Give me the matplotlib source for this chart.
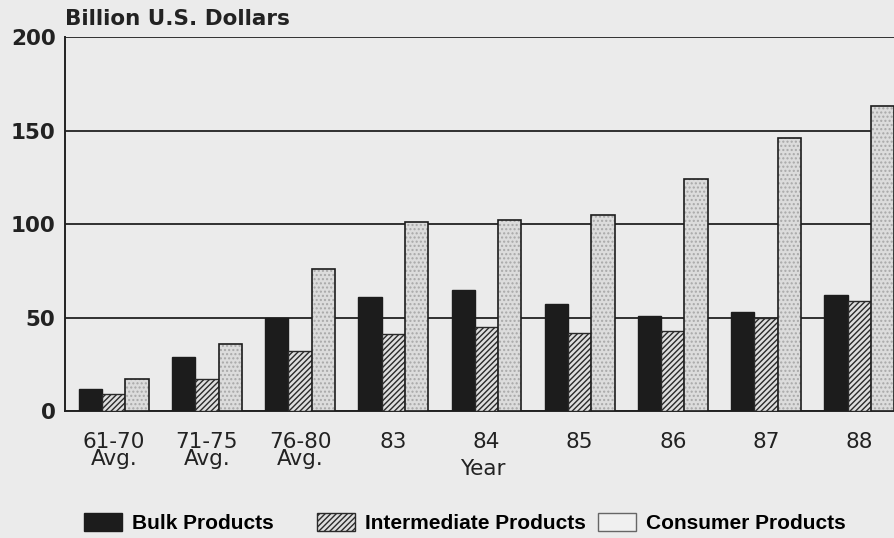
import matplotlib.pyplot as plt
from matplotlib.patches import Patch
import numpy as np

plt.rcParams['font.family'] = ['DejaVu Sans']

# data (billion U.S. dollars)
years = ["61-70\nAvg.", "71-75\nAvg.", "76-80\nAvg.", "83", "84", "85", "86", "87", "88"]
bulk = [12, 29, 50, 61, 65, 57, 51, 53, 62]
intermediate = [9, 17, 32, 41, 45, 42, 43, 50, 59]
consumer = [17, 36, 76, 101, 102, 105, 124, 146, 163]

paper = "#ebebeb"
ink = "#1c1c1c"

fig = plt.figure(figsize=(8.94, 5.38), dpi=100, facecolor=paper)
ax = fig.add_axes([0.073, 0.236, 0.935, 0.695], facecolor=paper)

x = np.arange(len(years))
w = 0.25

ax.bar(x - w, bulk, w, color=ink, edgecolor=ink, linewidth=1, zorder=3)
ax.bar(x, intermediate, w, facecolor="#dedede", edgecolor="#2a2a2a",
       hatch="//////", linewidth=1, zorder=3)
# stippled fill first, then a dark outline on top
ax.bar(x + w, consumer, w, facecolor="#dcdcdc", edgecolor="#a8a8a8",
       hatch="....", linewidth=0, zorder=3)
ax.bar(x + w, consumer, w, fill=False, edgecolor=ink, linewidth=1.2, zorder=4)

ax.set_ylim(0, 200)
ax.set_xlim(-0.52, 8.45)
ax.set_yticks([0, 50, 100, 150, 200])
ax.set_yticklabels(["0", "50", "100", "150", "200"], fontsize=15.5,
                   fontweight="bold", color="#222")
ax.set_xticks(x)
ax.set_xticklabels(years, fontsize=15.5, color="#222", linespacing=0.85)
ax.tick_params(axis="y", length=0, pad=7)
ax.tick_params(axis="x", direction="in", length=5, width=1.2, color=ink, pad=15)

ax.grid(axis="y", color="#222", linewidth=1.3, zorder=1)
for side in ["top", "right"]:
    ax.spines[side].set_visible(False)
for side in ["left", "bottom"]:
    ax.spines[side].set_linewidth(1.4)
    ax.spines[side].set_color("#222")

ax.set_xlabel("Year", fontsize=15.5, color="#222", labelpad=-7.5)
fig.text(0.073, 0.953, "Billion U.S. Dollars", fontsize=15.5, fontweight="bold",
         color="#222", va="baseline")

# legend entries are spaced unevenly in the original, so one legend per entry
handles = [
    Patch(facecolor=ink, edgecolor=ink, label="Bulk Products"),
    Patch(facecolor="#dedede", edgecolor="#2a2a2a", hatch="//////", label="Intermediate Products"),
    Patch(facecolor="#f0f0f0", edgecolor="#666", label="Consumer Products"),
]
legend_x = [0.094, 0.355, 0.669]
for h, lx in zip(handles, legend_x):
    fig.legend(handles=[h], loc="center left", bbox_to_anchor=(lx, 0.028),
               frameon=False, borderpad=0, borderaxespad=0,
               prop={"family": "Liberation Sans", "size": 15, "weight": "bold"},
               handlelength=1.83, handleheight=0.96, handletextpad=0.48)

plt.savefig("out.png", dpi=100, facecolor=paper)
